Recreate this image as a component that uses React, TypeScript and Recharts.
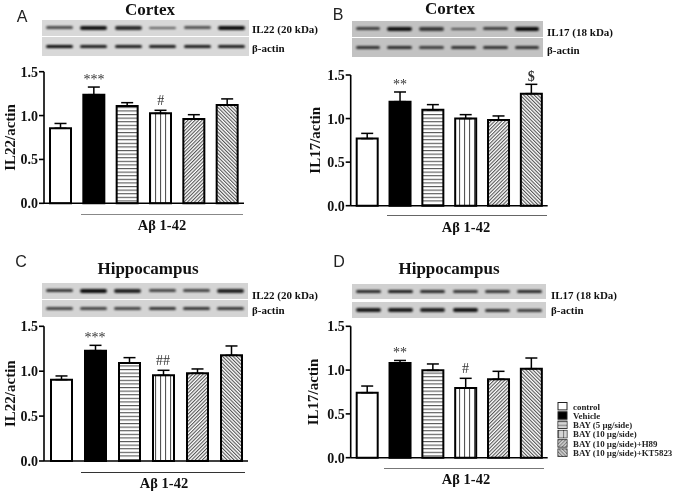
import { BarChart, Bar, Cell, ErrorBar, XAxis, YAxis, ReferenceDot } from "recharts";

const SERIF = "'Liberation Serif', 'Times New Roman', serif";
const SANS = "'Liberation Sans', Arial, sans-serif";

const GROUPS = ["control", "Vehicle", "BAY (5 µg/side)", "BAY (10 µg/side)", "BAY (10 µg/side)+H89", "BAY (10 µg/side)+KT5823"];
const Y_TICKS = [0, 0.5, 1, 1.5];
const FILLS = ["#fff", "#000", "url(#hatch-h)", "url(#hatch-v)", "url(#hatch-up)", "url(#hatch-down)"];

const cortexIL22 = [0.855, 1.238, 1.11, 1.025, 0.96, 1.12];
const cortexIL22Err = [0.055, 0.087, 0.037, 0.035, 0.05, 0.07];
const cortexIL17 = [0.77, 1.194, 1.1, 1.0, 0.983, 1.286];
const cortexIL17Err = [0.06, 0.111, 0.06, 0.045, 0.047, 0.107];
const hippoIL22 = [0.906, 1.229, 1.092, 0.954, 0.977, 1.177];
const hippoIL22Err = [0.041, 0.059, 0.059, 0.056, 0.048, 0.104];
const hippoIL17 = [0.742, 1.081, 0.997, 0.796, 0.895, 1.016];
const hippoIL17Err = [0.076, 0.029, 0.073, 0.11, 0.091, 0.122];

const bandsA = [[0.55, 0.95, 0.8, 0.45, 0.5, 1], [1, 0.9, 0.9, 0.9, 0.9, 0.9]];
const bandsB = [[0.6, 0.95, 0.65, 0.5, 0.6, 1], [0.7, 0.75, 0.6, 0.7, 0.7, 0.7]];
const bandsC = [[0.7, 1, 0.85, 0.6, 0.6, 0.85], [0.6, 0.6, 0.6, 0.7, 0.7, 0.7]];
const bandsD = [[0.8, 0.9, 0.8, 0.7, 0.7, 0.8], [0.9, 0.9, 0.85, 0.95, 0.75, 0.65]];

// lift of the significance marks above the error bar, the glyphs sit differently
const MARK_OFFSET: Record<string, number> = { "***": 3, "**": 3, "#": 5, "##": 5, $: 3 };

const panels = [
  {
    letter: "A", letterPos: [22, 17], title: "Cortex", titlePos: [150, 9], yLabel: "IL22/actin",
    values: cortexIL22, errors: cortexIL22Err, marks: [["Vehicle", "***"], ["BAY (10 µg/side)", "#"]],
    box: { left: 0, top: 60, width: 250, axisX: 44, plotW: 200, plotTop: 71.7, plotBottom: 203.3 }, labelX: 10,
    blot: { left: 42, width: 207, rows: [[20, 15.7], [37, 19]], bands: bandsA, bg: "#d8d8d8" },
    protein: "IL22 (20 kDa)", proteinPos: [252, 29], actinPos: [252, 48],
    bracket: { left: 81, right: 243, y: 213.5, color: "#888" }, groupPos: [162, 225],
  },
  {
    letter: "B", letterPos: [338, 15], title: "Cortex", titlePos: [450, 8], yLabel: "IL17/actin",
    values: cortexIL17, errors: cortexIL17Err, marks: [["Vehicle", "**"], ["BAY (10 µg/side)+KT5823", "$"]],
    box: { left: 304, top: 60, width: 250, axisX: 350.7, plotW: 197, plotTop: 75, plotBottom: 205.7 }, labelX: 315,
    blot: { left: 352, width: 191, rows: [[20.7, 16.6], [38, 18.7]], bands: bandsB, bg: "#c2c2c2" },
    protein: "IL17 (18 kDa)", proteinPos: [547, 32], actinPos: [547, 50],
    bracket: { left: 387, right: 547, y: 215, color: "#666" }, groupPos: [466, 227],
  },
  {
    letter: "C", letterPos: [21, 262], title: "Hippocampus", titlePos: [148, 268], yLabel: "IL22/actin",
    values: hippoIL22, errors: hippoIL22Err, marks: [["Vehicle", "***"], ["BAY (10 µg/side)", "##"]],
    box: { left: 0, top: 315, width: 255, axisX: 44, plotW: 204, plotTop: 326.3, plotBottom: 461 }, labelX: 10,
    blot: { left: 42, width: 206, rows: [[283, 15.7], [300, 17]], bands: bandsC, bg: "#d4d4d4" },
    protein: "IL22 (20 kDa)", proteinPos: [252, 294.7], actinPos: [252, 310],
    bracket: { left: 81, right: 245, y: 471.7, color: "#333" }, groupPos: [164, 483],
  },
  {
    letter: "D", letterPos: [339, 262], title: "Hippocampus", titlePos: [449, 268], yLabel: "IL17/actin",
    values: hippoIL17, errors: hippoIL17Err, marks: [["Vehicle", "**"], ["BAY (10 µg/side)", "#"]],
    box: { left: 304, top: 315, width: 250, axisX: 350.7, plotW: 197, plotTop: 326.3, plotBottom: 457.7 }, labelX: 313,
    blot: { left: 352, width: 194, rows: [[284, 15.3], [302, 16.3]], bands: bandsD, bg: "#d0d0d0" },
    protein: "IL17 (18 kDa)", proteinPos: [551, 295], actinPos: [551, 310],
    bracket: { left: 384, right: 544, y: 468, color: "#777" }, groupPos: [466, 479],
  },
];

function Placed({ pos, center = true, style, children }: any) {
  return (
    <div
      style={{
        position: "absolute",
        left: pos[0],
        top: pos[1],
        transform: center ? "translate(-50%,-50%)" : "translateY(-50%)",
        whiteSpace: "nowrap",
        lineHeight: 1,
        ...style,
      }}
    >
      {children}
    </div>
  );
}

function BlotStrip({ left, top, width, height, bands, bg }: any) {
  return (
    <div style={{ position: "absolute", left, top, width, height, background: bg, display: "flex", overflow: "hidden" }}>
      {bands.map((strength: number, i: number) => (
        <div key={i} style={{ flex: 1, display: "flex", alignItems: "center", justifyContent: "center" }}>
          <div
            style={{
              width: "78%",
              height: 1.8 + strength * 2,
              borderRadius: 2,
              background: "#000",
              opacity: 0.3 + strength * 0.65,
              filter: "blur(1.1px)",
            }}
          />
        </div>
      ))}
    </div>
  );
}

function Panel({ p }: any) {
  const { box } = p;
  const height = box.plotBottom - box.top + 20;
  const data = GROUPS.map((group, i) => ({ group, value: p.values[i], err: [0, p.errors[i]], top: p.values[i] + p.errors[i] }));
  const axisStyle = { stroke: "#000", strokeWidth: 1.6 };
  const blotText = { fontFamily: SERIF, fontSize: 11, fontWeight: "bold", color: "#111" };
  return (
    <>
      <Placed pos={p.letterPos} style={{ fontFamily: SANS, fontSize: 16, color: "#222" }}>{p.letter}</Placed>
      <Placed pos={p.titlePos} style={{ fontFamily: SERIF, fontSize: 17, fontWeight: "bold", color: "#111" }}>{p.title}</Placed>
      {p.blot.rows.map((row: number[], i: number) => (
        <BlotStrip key={i} left={p.blot.left} width={p.blot.width} top={row[0]} height={row[1]} bands={p.blot.bands[i]} bg={p.blot.bg} />
      ))}
      <Placed pos={p.proteinPos} center={false} style={blotText}>{p.protein}</Placed>
      <Placed pos={p.actinPos} center={false} style={blotText}>β-actin</Placed>
      <div style={{ position: "absolute", left: box.left, top: box.top }}>
        <BarChart
          width={box.axisX - box.left + box.plotW + 2}
          height={height}
          data={data}
          barCategoryGap={0}
          margin={{ top: box.plotTop - box.top, right: 2, bottom: 0, left: 0 }}
        >
          <XAxis dataKey="group" tick={false} tickSize={5} height={20} axisLine={axisStyle} tickLine={axisStyle} interval={0} />
          <YAxis
            width={box.axisX - box.left}
            domain={[0, 1.5]}
            ticks={Y_TICKS}
            tickFormatter={(v: number) => v.toFixed(1)}
            tickSize={5}
            tickMargin={1}
            axisLine={axisStyle}
            tickLine={axisStyle}
            tick={{ fontFamily: SERIF, fontSize: 14, fontWeight: "bold", fill: "#111" }}
            label={{
              value: p.yLabel,
              angle: -90,
              position: "insideLeft",
              offset: p.labelX - box.left,
              style: { fontFamily: SERIF, fontSize: 15, fontWeight: "bold", fill: "#111", textAnchor: "middle" },
            }}
          />
          <Bar dataKey="value" barSize={21} stroke="#000" strokeWidth={2} isAnimationActive={false}>
            {data.map((d, i) => (
              <Cell key={d.group} fill={FILLS[i]} />
            ))}
            <ErrorBar dataKey="err" direction="y" width={6} stroke="#000" strokeWidth={1.5} isAnimationActive={false} />
          </Bar>
          {p.marks.map(([group, mark]: string[]) => {
            const row = data.find((d) => d.group === group)!;
            return (
              <ReferenceDot
                key={group}
                x={group}
                y={row.top}
                r={0}
                stroke="none"
                label={{
                  value: mark,
                  position: "top",
                  offset: MARK_OFFSET[mark],
                  style: { fontFamily: SERIF, fontSize: 14, fontWeight: mark === "$" ? "bold" : "normal", fill: "#333" },
                }}
              />
            );
          })}
        </BarChart>
      </div>
      <div
        style={{
          position: "absolute",
          left: p.bracket.left,
          top: p.bracket.y,
          width: p.bracket.right - p.bracket.left,
          height: 1,
          background: p.bracket.color,
        }}
      />
      <Placed pos={p.groupPos} style={{ fontFamily: SERIF, fontSize: 14.5, fontWeight: "bold", color: "#111" }}>Aβ 1-42</Placed>
    </>
  );
}

function Patterns() {
  return (
    <defs>
      <pattern id="hatch-h" width="4" height="3.6" patternUnits="userSpaceOnUse">
        <rect width="4" height="3.6" fill="#fff" />
        <rect width="4" height="1.1" fill="#555" />
      </pattern>
      <pattern id="hatch-v" width="5" height="4" patternUnits="userSpaceOnUse">
        <rect width="5" height="4" fill="#fff" />
        <rect width="1.1" height="4" fill="#555" />
      </pattern>
      <pattern id="hatch-up" width="2.5" height="2.5" patternUnits="userSpaceOnUse" patternTransform="rotate(45)">
        <rect width="2.5" height="2.5" fill="#fff" />
        <rect width="1.1" height="2.5" fill="#555" />
      </pattern>
      <pattern id="hatch-down" width="2.5" height="2.5" patternUnits="userSpaceOnUse" patternTransform="rotate(-45)">
        <rect width="2.5" height="2.5" fill="#fff" />
        <rect width="1.1" height="2.5" fill="#555" />
      </pattern>
    </defs>
  );
}

function LegendBox() {
  return (
    <svg width={675} height={493} style={{ position: "absolute", left: 0, top: 0, pointerEvents: "none" }}>
      <Patterns />
      {GROUPS.map((group, i) => (
        <g key={group} transform={`translate(558, ${402.5 + i * 9.3})`}>
          <rect width={9} height={7.4} fill={i < 2 ? FILLS[i] : "#aaa"} stroke="#222" strokeWidth={1} />
          {i > 1 && <rect width={9} height={7.4} fill={FILLS[i]} opacity={0.5} />}
          <text x={15} y={7} fontFamily={SERIF} fontSize={8.9} fontWeight="bold" fill="#222">{group}</text>
        </g>
      ))}
    </svg>
  );
}

export default function App() {
  return (
    <div style={{ position: "absolute", left: 0, top: 0, width: 675, height: 493, background: "#fff", overflow: "hidden", filter: "blur(0.35px)" }}>
      <LegendBox />
      {panels.map((p) => (
        <Panel key={p.letter} p={p} />
      ))}
    </div>
  );
}
